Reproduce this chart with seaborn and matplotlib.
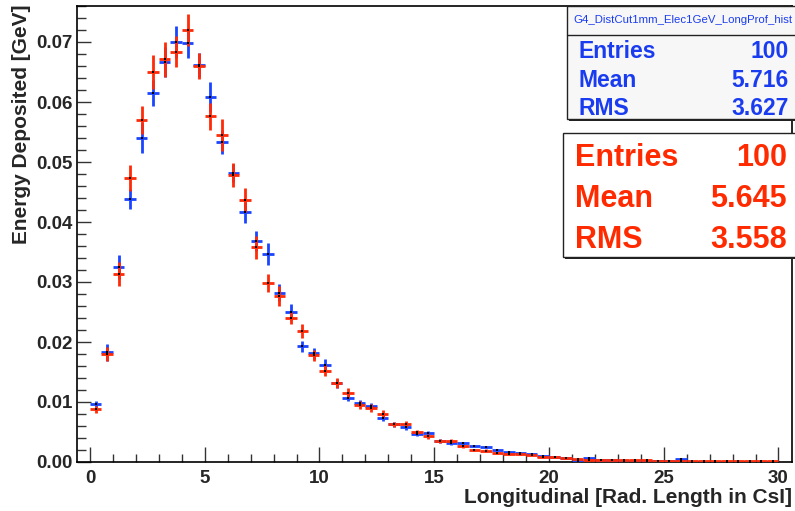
import numpy as np
import matplotlib
matplotlib.use("Agg")
import matplotlib.pyplot as plt
import seaborn as sns
import pandas as pd
from matplotlib.patches import Rectangle
from matplotlib.lines import Line2D
from matplotlib.ticker import MultipleLocator

# ---------------- data ----------------
bin_width = 0.5
bin_centers = np.arange(60) * bin_width + bin_width / 2

blue_vals = [0.0097, 0.0183, 0.0325, 0.0438, 0.0540, 0.0615, 0.0667, 0.0700, 0.0699, 0.0662,
             0.0609, 0.0534, 0.0481, 0.0416, 0.0368, 0.0347, 0.0282, 0.0250, 0.0193, 0.0181,
             0.0162, 0.0131, 0.0107, 0.0098, 0.0093, 0.0073, 0.0063, 0.0058, 0.0047, 0.0048,
             0.0035, 0.0031, 0.0031, 0.0027, 0.0025, 0.0020, 0.0017, 0.0015, 0.0013, 0.0010,
             0.0008, 0.0006, 0.0001, 0.0006, 0.0003, 0.0003, 0.0002, 0.0002, 0.0002, 0.0001,
             0.0001, 0.0005, 0.0000, 0.0000, 0.0000, 0.0000, 0.0000, 0.0000, 0.0000, 0.0000]
blue_errs = [0.0005, 0.0014, 0.0020, 0.0017, 0.0025, 0.0022, 0.0025, 0.0026, 0.0025, 0.0020,
             0.0025, 0.0020, 0.0015, 0.0018, 0.0017, 0.0018, 0.0014, 0.0013, 0.0009, 0.0009,
             0.0010, 0.0007, 0.0006, 0.0005, 0.0005, 0.0005, 0.0004, 0.0004, 0.0003, 0.0004,
             0.0003, 0.0003, 0.0003, 0.0002, 0.0002, 0.0002, 0.0002, 0.0002, 0.0001, 0.0001,
             0.0001, 0.0001, 0.0000, 0.0001, 0.0000, 0.0000, 0.0000, 0.0000, 0.0000, 0.0000,
             0.0000, 0.0001, 0.0000, 0.0000, 0.0000, 0.0000, 0.0000, 0.0000, 0.0000, 0.0000]

red_vals = [0.0088, 0.0180, 0.0313, 0.0473, 0.0570, 0.0650, 0.0671, 0.0684, 0.0720, 0.0660,
            0.0576, 0.0545, 0.0478, 0.0437, 0.0358, 0.0299, 0.0277, 0.0240, 0.0218, 0.0178,
            0.0152, 0.0132, 0.0115, 0.0095, 0.0090, 0.0080, 0.0063, 0.0063, 0.0050, 0.0043,
            0.0035, 0.0035, 0.0026, 0.0020, 0.0019, 0.0015, 0.0013, 0.0013, 0.0012, 0.0008,
            0.0008, 0.0006, 0.0005, 0.0004, 0.0003, 0.0003, 0.0003, 0.0003, 0.0003, 0.0001,
            0.0001, 0.0001, 0.0001, 0.0001, 0.0001, 0.0001, 0.0001, 0.0001, 0.0001, 0.0001]
red_errs = [0.0006, 0.0011, 0.0020, 0.0022, 0.0024, 0.0029, 0.0029, 0.0026, 0.0026, 0.0022,
            0.0022, 0.0026, 0.0020, 0.0020, 0.0019, 0.0015, 0.0017, 0.0010, 0.0012, 0.0009,
            0.0009, 0.0008, 0.0008, 0.0006, 0.0006, 0.0006, 0.0004, 0.0005, 0.0004, 0.0004,
            0.0003, 0.0003, 0.0003, 0.0002, 0.0002, 0.0002, 0.0002, 0.0002, 0.0001, 0.0001,
            0.0001, 0.0001, 0.0001, 0.0001, 0.0000, 0.0000, 0.0000, 0.0000, 0.0000, 0.0000,
            0.0000, 0.0000, 0.0000, 0.0000, 0.0000, 0.0000, 0.0000, 0.0000, 0.0000, 0.0000]

hist_title = "G4_DistCut1mm_Elec1GeV_LongProf_hist"
stat_labels = ["Entries", "Mean", "RMS"]
blue_stats = ["100", "5.716", "3.627"]
red_stats = ["100", "5.645", "3.558"]

x_label = "Longitudinal [Rad. Length in CsI]"
y_label = "Energy Deposited [GeV]"

BLUE = "#1a44ff"
RED = "#ff2a08"
BLUE_TXT = "#1a3cf0"
RED_TXT = "#ff2a00"

# ---------------- style ----------------
sns.set_theme(style="ticks")
plt.rcParams['font.family'] = ['Liberation Sans', 'DejaVu Sans']
plt.rcParams['font.weight'] = 'bold'

W, H = 795, 511
fig = plt.figure(figsize=(W / 100, H / 100), dpi=100)
fig.patch.set_facecolor("white")
ax = fig.add_axes([77 / W, 1 - 462 / H, (792 - 77) / W, (462 - 6) / H])
ax.set_facecolor("white")

df = pd.concat([
    pd.DataFrame({"x": bin_centers, "y": blue_vals, "err": blue_errs, "series": "blue"}),
    pd.DataFrame({"x": bin_centers, "y": red_vals, "err": red_errs, "series": "red"}),
], ignore_index=True)

for name, col in [("blue", BLUE), ("red", RED)]:
    d = df[df.series == name]
    ax.errorbar(d.x, d.y, xerr=bin_width / 2, yerr=d.err, fmt='none',
                ecolor=col, elinewidth=2.0, capsize=0, zorder=3, clip_on=True)
sns.scatterplot(data=df, x="x", y="y", color="black", s=1.5, marker="s",
                linewidth=0, ax=ax, zorder=4, legend=False)

ax.set_xlim(-0.566, 30.59)
ax.set_ylim(0, 0.076)

ax.xaxis.set_major_locator(MultipleLocator(5))
ax.xaxis.set_minor_locator(MultipleLocator(1))
ax.yaxis.set_major_locator(MultipleLocator(0.01))
ax.yaxis.set_minor_locator(MultipleLocator(0.002))
ax.yaxis.set_major_formatter(matplotlib.ticker.FormatStrFormatter("%.2f"))

ax.tick_params(axis='x', which='major', direction='in', length=10.8, width=1.0,
               color='#333333', labelsize=13.5, pad=6, top=False)
ax.tick_params(axis='x', which='minor', direction='in', length=5.8, width=1.0,
               color='#333333', top=False)
ax.tick_params(axis='y', which='major', direction='in', length=10, width=1.0,
               color='#333333', labelsize=13.5, pad=3.5, right=False)
ax.tick_params(axis='y', which='minor', direction='in', length=6.5, width=1.0,
               color='#333333', right=False)
for lab in ax.get_xticklabels() + ax.get_yticklabels():
    lab.set_fontweight('bold')

for sp in ax.spines.values():
    sp.set_color('black')
    sp.set_linewidth(1.2)
    sp.set_visible(True)

ax.set_xlabel("")
ax.set_ylabel("")
fig.text(792 / W, 1 - 497 / H, x_label, ha='right', va='center',
         fontsize=15, fontweight='bold')
fig.text(22 / W, 1 - 5 / H, y_label, ha='center', va='top', rotation=90,
         fontsize=15, fontweight='bold')

# ---------------- stat boxes ----------------
def fx(px):
    return px / W

def fy(py):
    return 1 - py / H

# blue box with shadow
fig.patches.append(Rectangle((fx(569), fy(121)), fx(795) - fx(569), fy(8) - fy(121),
                             transform=fig.transFigure, facecolor='#222222',
                             edgecolor='none', zorder=10))
fig.patches.append(Rectangle((fx(567), fy(119)), fx(796) - fx(567), fy(6) - fy(119),
                             transform=fig.transFigure, facecolor='#f7f7f7',
                             edgecolor='#222222', linewidth=1.0, zorder=11))
fig.lines.append(Line2D([fx(567), fx(796)], [fy(35), fy(35)], transform=fig.transFigure,
                        color='#222222', linewidth=1.0, zorder=12))
fig.text((fx(567) + fx(795)) / 2 + 0.002, fy(23), hist_title, ha='center', va='baseline',
         fontsize=8.2, fontweight='normal', color=BLUE_TXT, zorder=13)
for lab, val, base in zip(stat_labels, blue_stats, [58, 87, 115]):
    fig.text(fx(579), fy(base), lab, ha='left', va='baseline', fontsize=16.5,
             fontweight='bold', color=BLUE_TXT, zorder=13)
    fig.text(fx(789), fy(base), val, ha='right', va='baseline', fontsize=16.5,
             fontweight='bold', color=BLUE_TXT, zorder=13)

# red box with shadow
fig.patches.append(Rectangle((fx(565), fy(259)), fx(795) - fx(565), fy(135) - fy(259),
                             transform=fig.transFigure, facecolor='#222222',
                             edgecolor='none', zorder=10))
fig.patches.append(Rectangle((fx(563), fy(257)), fx(796) - fx(563), fy(133) - fy(257),
                             transform=fig.transFigure, facecolor='white',
                             edgecolor='#222222', linewidth=1.0, zorder=11))
for lab, val, base in zip(stat_labels, red_stats, [166, 207, 248]):
    fig.text(fx(575), fy(base), lab, ha='left', va='baseline', fontsize=22,
             fontweight='bold', color=RED_TXT, zorder=13)
    fig.text(fx(787), fy(base), val, ha='right', va='baseline', fontsize=22,
             fontweight='bold', color=RED_TXT, zorder=13)

fig.savefig("out.png", dpi=100)
